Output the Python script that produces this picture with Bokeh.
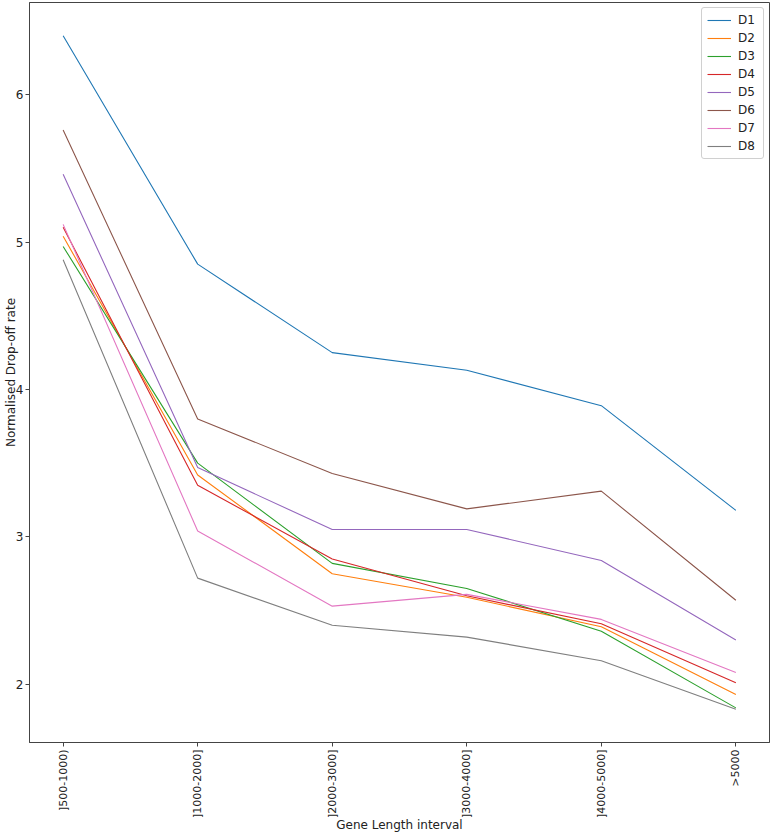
import math
from bokeh.plotting import figure
from bokeh.models import Range1d, FixedTicker, Legend, LegendItem
from bokeh.embed import file_html
from bokeh.resources import INLINE

categories = ["]500-1000)", "]1000-2000]", "]2000-3000]", "]3000-4000]", "]4000-5000]", ">5000"]

D1 = [6.40, 4.85, 4.25, 4.13, 3.89, 3.18]
D2 = [5.04, 3.42, 2.75, 2.59, 2.39, 1.93]
D3 = [4.97, 3.50, 2.82, 2.65, 2.36, 1.84]
D4 = [5.10, 3.35, 2.85, 2.60, 2.41, 2.01]
D5 = [5.46, 3.47, 3.05, 3.05, 2.84, 2.30]
D6 = [5.76, 3.80, 3.43, 3.19, 3.31, 2.57]
D7 = [5.12, 3.04, 2.53, 2.61, 2.44, 2.08]
D8 = [4.88, 2.72, 2.40, 2.32, 2.16, 1.83]

series_names = ["D1", "D2", "D3", "D4", "D5", "D6", "D7", "D8"]
series_values = [D1, D2, D3, D4, D5, D6, D7, D8]
colors = ["#1f77b4", "#ff7f0e", "#2ca02c", "#d62728", "#9467bd", "#8c564b", "#e377c2", "#7f7f7f"]

y_ticks = [2, 3, 4, 5, 6]

xs = list(range(len(categories)))

p = figure(width=772, height=835, output_backend="svg", toolbar_location=None,
           x_range=Range1d(-0.25, len(categories) - 1 + 0.25),
           y_range=Range1d(1.605, 6.625),
           min_border_left=0, min_border_right=3, min_border_top=2, min_border_bottom=0)

renderers = []
for name, vals, c in zip(series_names, series_values, colors):
    r = p.line(xs, vals, line_color=c, line_width=1.1)
    renderers.append((name, r))

legend = Legend(items=[LegendItem(label=n, renderers=[r]) for n, r in renderers],
                location="top_right")
legend.border_line_color = "#d0d0d0"
legend.border_line_alpha = 1
legend.border_radius = 3
legend.label_text_font = "DejaVu Sans"
legend.label_text_font_size = "12px"
legend.label_text_color = "#222222"
legend.glyph_width = 24
legend.glyph_height = 14
legend.label_height = 14
legend.spacing = 4
legend.padding = 5
legend.margin = 5
legend.label_standoff = 7
p.add_layout(legend)

p.xgrid.visible = False
p.ygrid.visible = False
p.outline_line_color = "#444444"
p.outline_line_width = 1

p.xaxis.ticker = FixedTicker(ticks=xs)
p.xaxis.major_label_overrides = {i: c for i, c in enumerate(categories)}
p.xaxis.major_label_orientation = math.pi / 2
p.yaxis.ticker = FixedTicker(ticks=y_ticks)
p.xaxis.minor_tick_line_color = None
p.yaxis.minor_tick_line_color = None

for ax in (p.xaxis[0], p.yaxis[0]):
    ax.axis_line_color = "#444444"
    ax.major_tick_line_color = "#444444"
    ax.major_tick_out = 4
    ax.major_tick_in = 0
    ax.major_label_text_font = "DejaVu Sans"
    ax.major_label_text_font_size = "12px"
    ax.major_label_text_color = "#222222"
    ax.major_label_standoff = 2
    ax.axis_label_text_font = "DejaVu Sans"
    ax.axis_label_text_font_size = "12px"
    ax.axis_label_text_font_style = "normal"
    ax.axis_label_text_color = "#222222"
    ax.axis_label_standoff = -5

p.xaxis.major_label_text_font_size = "11px"
p.xaxis.major_label_standoff = 3
p.xaxis.axis_label_standoff = -3

p.xaxis.axis_label = "Gene Length interval"
p.yaxis.axis_label = "Normalised Drop-off rate"

open("out.html", "w").write(file_html(p, INLINE))
